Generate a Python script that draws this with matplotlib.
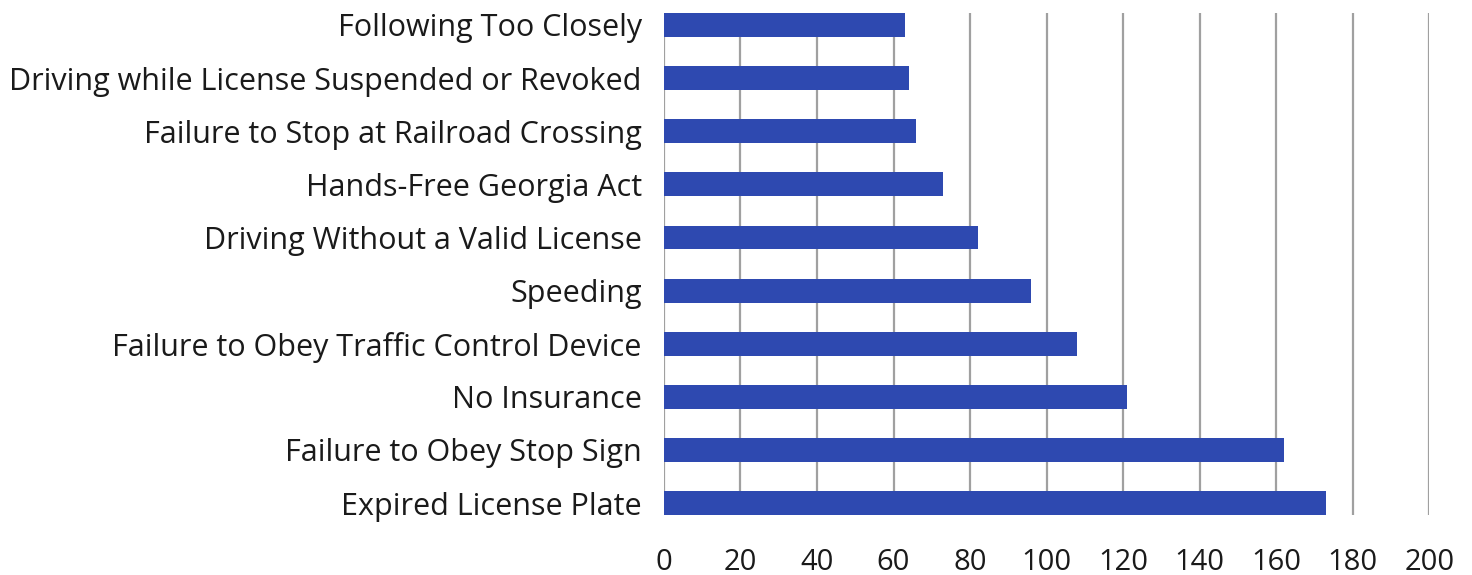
import matplotlib
matplotlib.use("Agg")
import matplotlib.pyplot as plt

# Citation categories, bottom to top
categories = [
    "Expired License Plate",
    "Failure to Obey Stop Sign",
    "No Insurance",
    "Failure to Obey Traffic Control Device",
    "Speeding",
    "Driving Without a Valid License",
    "Hands-Free Georgia Act",
    "Failure to Stop at Railroad Crossing",
    "Driving while License Suspended or Revoked",
    "Following Too Closely",
]
counts = [173, 162, 121, 108, 96, 82, 73, 66, 64, 63]
xticks = [0, 20, 40, 60, 80, 100, 120, 140, 160, 180, 200]

plt.rcParams['font.family'] = ['Open Sans', 'DejaVu Sans']

fig = plt.figure(figsize=(14.72, 5.75), dpi=100)
ax = fig.add_axes([0.451, 0.1043, 0.520, 0.8731])

ax.barh(range(len(categories)), counts, height=0.45, color='#2e49b0', zorder=3)

ax.set_xlim(0, 200)
ax.set_ylim(-0.226, len(categories) - 1 + 0.226)
ax.set_xticks(xticks)
ax.set_yticks(range(len(categories)))
ax.set_yticklabels(categories)

ax.grid(axis='x', color='#a0a0a0', linewidth=1.6, zorder=0)
ax.grid(axis='y', visible=False)
for s in ax.spines.values():
    s.set_visible(False)

ax.tick_params(axis='y', length=0, pad=16, labelsize=22, labelcolor='#1a1a1a')
ax.tick_params(axis='x', length=0, pad=24, labelsize=21, labelcolor='#1a1a1a')

fig.savefig('out.png', dpi=100)
